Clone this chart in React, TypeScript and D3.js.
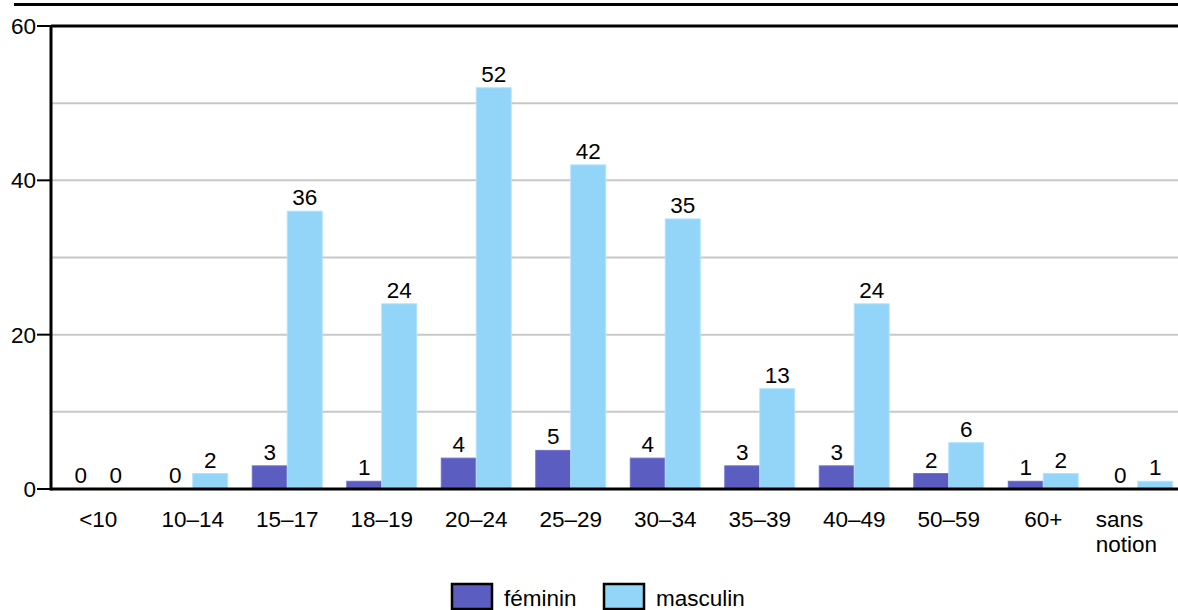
import * as d3 from "d3";

const categories = ["<10", "10–14", "15–17", "18–19", "20–24", "25–29", "30–34", "35–39", "40–49", "50–59", "60+", "sans notion"];
const feminin = [0, 0, 3, 1, 4, 5, 4, 3, 3, 2, 1, 0];
const masculin = [0, 2, 36, 24, 52, 42, 35, 13, 24, 6, 2, 1];
const seriesNames = ["féminin", "masculin"];
const colors = ["#5b5ec0", "#92d5f8"];
const gridTicks = [10, 20, 30, 40, 50];
const labelTicks = [0, 20, 40, 60];

const WIDTH = 1178;
const HEIGHT = 610;
const LEFT = 51;
const RIGHT = 1178;
const TOP = 26;
const BOTTOM = 489;
const FONT = "'Liberation Sans', Arial, sans-serif";
const FS = 22.5;

const App = () => {
  // bands run a little past the right edge in the original
  const x = d3.scaleBand<string>().domain(categories).range([LEFT, 1185]).paddingInner(0.26).paddingOuter(0.13);
  const xs = d3.scaleBand<string>().domain(seriesNames).range([0, x.bandwidth()]);
  const y = d3.scaleLinear().domain([0, 60]).range([BOTTOM, TOP]);
  const values = [feminin, masculin];

  return (
    <svg width={WIDTH} height={HEIGHT} style={{ position: "absolute", left: 0, top: 0, background: "#fff" }} fontFamily={FONT}>
      <line x1={14} x2={WIDTH} y1={4.5} y2={4.5} stroke="#000" strokeWidth={3} />
      {gridTicks.map((t) => (
        <line key={t} x1={LEFT} x2={RIGHT} y1={y(t)} y2={y(t)} stroke="#c8c8c8" strokeWidth={2} />
      ))}
      <line x1={LEFT} x2={RIGHT} y1={y(60)} y2={y(60)} stroke="#000" strokeWidth={3} />
      {categories.map((c, i) => {
        const cx = (x(c) as number) + x.bandwidth() / 2;
        return (
          <g key={c}>
            {values.map((vals, s) => {
              const bx = (x(c) as number) + (xs(seriesNames[s]) as number);
              const v = vals[i];
              return (
                <g key={s}>
                  {v > 0 && (
                    <rect x={bx} y={y(v)} width={xs.bandwidth()} height={BOTTOM - y(v)} fill={colors[s]} stroke={s === 1 ? "#b4e2fb" : "#6e70c8"} strokeWidth={1} />
                  )}
                  <text x={bx + xs.bandwidth() / 2} y={y(v) - 6} textAnchor="middle" fontSize={FS} fill="#000">
                    {v}
                  </text>
                </g>
              );
            })}
            {c === "sans notion" ? (
              <text y={527} fontSize={FS} fill="#000">
                <tspan x={cx - 42}>sans</tspan>
                <tspan x={cx - 42} dy={25}>notion</tspan>
              </text>
            ) : (
              <text x={cx} y={527} textAnchor="middle" fontSize={FS} fill="#000">
                {c}
              </text>
            )}
          </g>
        );
      })}
      <line x1={LEFT} x2={RIGHT} y1={y(0)} y2={y(0)} stroke="#000" strokeWidth={3} />
      <line x1={LEFT} x2={LEFT} y1={TOP - 1} y2={BOTTOM + 1.5} stroke="#000" strokeWidth={3} />
      {labelTicks.map((t) => (
        <g key={t}>
          <line x1={37} x2={LEFT} y1={y(t)} y2={y(t)} stroke="#000" strokeWidth={2} />
          <text x={36} y={y(t) + 8} textAnchor="end" fontSize={FS} fill="#000">
            {t}
          </text>
        </g>
      ))}
      {seriesNames.map((n, i) => {
        const lx = i === 0 ? 452 : 604;
        return (
          <g key={n}>
            <rect x={lx} y={584} width={40} height={25} fill={colors[i]} stroke="#000" strokeWidth={2.5} />
            <text x={lx + 52} y={606} fontSize={FS} fill="#000">
              {n}
            </text>
          </g>
        );
      })}
    </svg>
  );
};

export default App;
